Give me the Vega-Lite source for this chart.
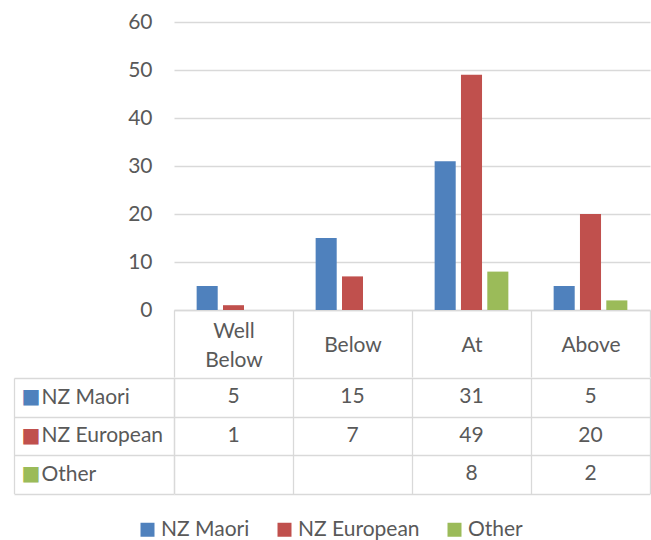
{
  "$schema": "https://vega.github.io/schema/vega-lite/v6.json",
  "padding": {"left": 13, "top": 11, "right": 0, "bottom": 0},
  "spacing": -11,
  "config": {
    "font": "Lato",
    "view": {"stroke": null},
    "axis": {
      "labelFont": "Lato",
      "labelFontSize": 21,
      "labelColor": "#595959",
      "gridColor": "#D9D9D9",
      "gridWidth": 1.3,
      "domainColor": "#D9D9D9",
      "domainWidth": 1.3,
      "tickColor": "#D9D9D9",
      "tickWidth": 1.3,
      "labelOverlap": false,
      "labelBound": false,
      "labelFlush": false,
      "title": null
    }
  },
  "datasets": {
    "scores": [
      {"band": "Well Below", "group": "NZ Maori", "count": 5},
      {"band": "Below", "group": "NZ Maori", "count": 15},
      {"band": "At", "group": "NZ Maori", "count": 31},
      {"band": "Above", "group": "NZ Maori", "count": 5},
      {"band": "Well Below", "group": "NZ European", "count": 1},
      {"band": "Below", "group": "NZ European", "count": 7},
      {"band": "At", "group": "NZ European", "count": 49},
      {"band": "Above", "group": "NZ European", "count": 20},
      {"band": "At", "group": "Other", "count": 8},
      {"band": "Above", "group": "Other", "count": 2}
    ]
  },
  "vconcat": [
    {
      "width": 476,
      "height": 288,
      "data": {"name": "scores"},
      "mark": {"type": "bar"},
      "encoding": {
        "x": {
          "field": "band",
          "type": "nominal",
          "title": null,
          "sort": ["Well Below", "Below", "At", "Above"],
          "scale": {"paddingInner": 0, "paddingOuter": 0},
          "axis": {
            "orient": "bottom",
            "domain": true,
            "ticks": true,
            "tickBand": "extent",
            "tickSize": 67,
            "labelAngle": 0,
            "labelPadding": {
              "condition": {"test": "datum.value === 'Well Below'", "value": -46},
              "value": -32
            },
            "labelBaseline": "middle",
            "labelLineHeight": 29,
            "labelExpr": "datum.label == 'Well Below' ? ['Well', 'Below'] : datum.label",
            "minExtent": 0
          }
        },
        "xOffset": {
          "field": "group",
          "type": "nominal",
          "scale": {"domain": ["NZ Maori", "NZ European", "Other"], "paddingInner": 0.2, "paddingOuter": 0.86}
        },
        "y": {
          "field": "count",
          "type": "quantitative",
          "title": null,
          "scale": {"domain": [0, 60]},
          "axis": {
            "values": [0, 10, 20, 30, 40, 50, 60],
            "grid": true,
            "domain": false,
            "ticks": false,
            "tickSize": 0,
            "labelPadding": 22
          }
        },
        "color": {
          "field": "group",
          "type": "nominal",
          "scale": {
            "domain": ["NZ Maori", "NZ European", "Other"],
            "range": ["#4F81BD", "#C0504D", "#9BBB59"]
          },
          "legend": {
            "orient": "none",
            "legendX": -37,
            "legendY": 497,
            "direction": "horizontal",
            "title": null,
            "symbolType": "square",
            "symbolSize": 196,
            "symbolStrokeWidth": 0,
            "labelFont": "Lato",
            "labelFontSize": 21,
            "labelColor": "#595959",
            "labelOffset": 3,
            "columnPadding": 24,
            "padding": 0
          }
        }
      }
    },
    {
      "width": 476,
      "height": 115.5,
      "data": {"name": "scores"},
      "resolve": {"axis": {"y": "independent"}},
      "encoding": {
        "x": {
          "field": "band",
          "type": "nominal",
          "title": null,
          "sort": ["Well Below", "Below", "At", "Above"],
          "scale": {"paddingInner": 0, "paddingOuter": 0},
          "axis": {
            "orient": "bottom",
            "labels": false,
            "ticks": false,
            "domain": false,
            "grid": true,
            "tickBand": "extent",
            "minExtent": 0,
            "maxExtent": 0,
            "zindex": 1
          }
        }
      },
      "layer": [
        {
          "mark": {"type": "rect", "fill": "white"},
          "encoding": {
            "y": {
              "field": "group",
              "type": "nominal",
              "title": null,
              "scale": {"domain": ["NZ Maori", "NZ European", "Other"], "paddingInner": 0, "paddingOuter": 0},
              "axis": {
                "orient": "left",
                "domain": true,
                "ticks": true,
                "tickBand": "extent",
                "tickSize": 160,
                "grid": true,
                "labelAlign": "left",
                "labelBaseline": "middle",
                "labelPadding": -27,
                "zindex": 1
              }
            }
          }
        },
        {
          "mark": {"type": "text", "font": "Lato", "fontSize": 21, "color": "#595959"},
          "encoding": {
            "y": {
              "field": "group",
              "type": "nominal",
              "title": null,
              "scale": {"domain": ["NZ Maori", "NZ European", "Other"], "paddingInner": 0, "paddingOuter": 0},
              "axis": {
                "orient": "left",
                "offset": 160,
                "domain": true,
                "ticks": false,
                "tickSize": 0,
                "grid": false,
                "labelExpr": "'■'",
                "labelFont": "DejaVu Sans",
                "labelFontSize": 20,
                "labelAlign": "left",
                "labelBaseline": "middle",
                "labelPadding": -7,
                "labelColor": {
                  "condition": [
                    {"test": "datum.value === 'NZ Maori'", "value": "#4F81BD"},
                    {"test": "datum.value === 'NZ European'", "value": "#C0504D"}
                  ],
                  "value": "#9BBB59"
                },
                "zindex": 1
              }
            },
            "text": {"field": "count", "type": "quantitative"}
          }
        }
      ]
    }
  ]
}
